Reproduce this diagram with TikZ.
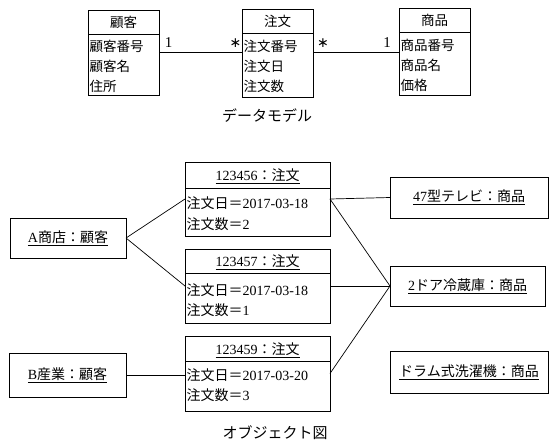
\documentclass[tikz,border=0pt]{standalone}
\usepackage{fontspec}
\setmainfont{Liberation Serif}
\newfontfamily\jp{Noto Sans CJK JP}
\newfontfamily\dv{DejaVu Sans}
\newcommand\J[1]{{\jp #1}}
\begin{document}
\begin{tikzpicture}[x=1pt,y=-1pt,
  frame/.style 2 args={draw, line width=0.8pt, minimum width=#1, minimum height=#2, inner sep=0pt, outer sep=0pt},
  divider/.style={line width=0.8pt},
  link/.style={line width=0.7pt},
  clstxt/.style={inner sep=0pt, font=\jp\fontsize{13.5}{15}\selectfont},
  clsattr/.style={clstxt, anchor=west},
  objtxt/.style={inner sep=0pt, font=\fontsize{14}{16}\selectfont},
  objattr/.style={objtxt, anchor=west},
  mult/.style={inner sep=0pt, font=\fontsize{15}{16}\selectfont},
  star/.style={inner sep=0pt, font=\dv\fontsize{14}{16}\selectfont},
  caption/.style={inner sep=0pt, font=\jp\fontsize{15}{17}\selectfont}
]
\useasboundingbox (0,0) rectangle (555,445);

% ---------- data model ----------
\node[frame={71}{85}] (kokyaku) at (123.5,52.5) {};
\draw[divider] (kokyaku.west |- 0,34) -- (kokyaku.east |- 0,34);
\node[clstxt] (kokyakuH) at (123.5,22.5) {顧客};
\node[clsattr] (kokyakuA1) at (89.5,46.5) {顧客番号};
\node[clsattr] (kokyakuA2) at (89.5,66.5) {顧客名};
\node[clsattr] (kokyakuA3) at (89.5,86.5) {住所};

\node[frame={71}{88}] (chumon) at (277.5,53) {};
\draw[divider] (chumon.west |- 0,33) -- (chumon.east |- 0,33);
\node[clstxt] (chumonH) at (277.5,21.5) {注文};
\node[clsattr] (chumonA1) at (243.5,46.5) {注文番号};
\node[clsattr] (chumonA2) at (243.5,66.5) {注文日};
\node[clsattr] (chumonA3) at (243.5,86.5) {注文数};

\node[frame={71}{87}] (shohin) at (434.5,51.5) {};
\draw[divider] (shohin.west |- 0,32) -- (shohin.east |- 0,32);
\node[clstxt] (shohinH) at (434.5,20.5) {商品};
\node[clsattr] (shohinA1) at (400.5,45.5) {商品番号};
\node[clsattr] (shohinA2) at (400.5,65.5) {商品名};
\node[clsattr] (shohinA3) at (400.5,85.5) {価格};

\draw[link] (kokyaku.east) -- (kokyaku.east -| chumon.west);
\draw[link] (chumon.east |- 0,52) -- (shohin.west |- 0,52);

\node[mult] (m1) at (168.5,42.5) {1};
\node[star] (m2) at (235.5,43.5) {∗};
\node[star] (m3) at (323,43.5) {∗};
\node[mult] (m4) at (387,42.5) {1};

\node[caption] (dm) at (267,116) {データモデル};

% ---------- object diagram ----------
\node[frame={116}{40}, objtxt] (ashop) at (68,238) {\underline{A\J{商店：顧客}}};
\node[frame={117}{44}, objtxt] (bsan) at (67.5,375) {\underline{B\J{産業：顧客}}};

\node[frame={145}{74}] (o1) at (257.5,199) {};
\draw[divider] (o1.west |- 0,188) -- (o1.east |- 0,188);
\node[objtxt] (o1H) at (257.5,176) {\underline{123456\J{：注文}}};
\node[objattr] (o1A1) at (186.5,203.5) {\J{注文日＝}2017-03-18};
\node[objattr] (o1A2) at (186.5,224.5) {\J{注文数＝}2};

\node[frame={145}{74}] (o2) at (257.5,286) {};
\draw[divider] (o2.west |- 0,273.5) -- (o2.east |- 0,273.5);
\node[objtxt] (o2H) at (257.5,262) {\underline{123457\J{：注文}}};
\node[objattr] (o2A1) at (186.5,290) {\J{注文日＝}2017-03-18};
\node[objattr] (o2A2) at (186.5,310.5) {\J{注文数＝}1};

\node[frame={145}{75}] (o3) at (257.5,373.5) {};
\draw[divider] (o3.west |- 0,361.5) -- (o3.east |- 0,361.5);
\node[objtxt] (o3H) at (257.5,350) {\underline{123459\J{：注文}}};
\node[objattr] (o3A1) at (186.5,375) {\J{注文日＝}2017-03-20};
\node[objattr] (o3A2) at (186.5,395.5) {\J{注文数＝}3};

\node[frame={158}{41}, objtxt] (tv) at (469,197.5) {\underline{47\J{型テレビ：商品}}};
\node[frame={155}{40}, objtxt] (fridge) at (467.5,286) {\underline{2\J{ドア冷蔵庫：商品}}};
\node[frame={158}{42}, objtxt] (washer) at (469,372) {\underline{\J{ドラム式洗濯機：商品}}};

\draw[link] (ashop.east) -- (o1.west);
\draw[link] (ashop.east) -- (o2.west);
\draw[link] (bsan.east) -- (bsan.east -| o3.west);
\draw[link] (o1.east) -- (tv.west);
\draw[link] (o1.east) -- (fridge.west);
\draw[link] (o2.east) -- (fridge.west);
\draw[link] (o3.east) -- (fridge.west);

\node[caption] (od) at (275,433) {オブジェクト図};
\end{tikzpicture}
\end{document}
